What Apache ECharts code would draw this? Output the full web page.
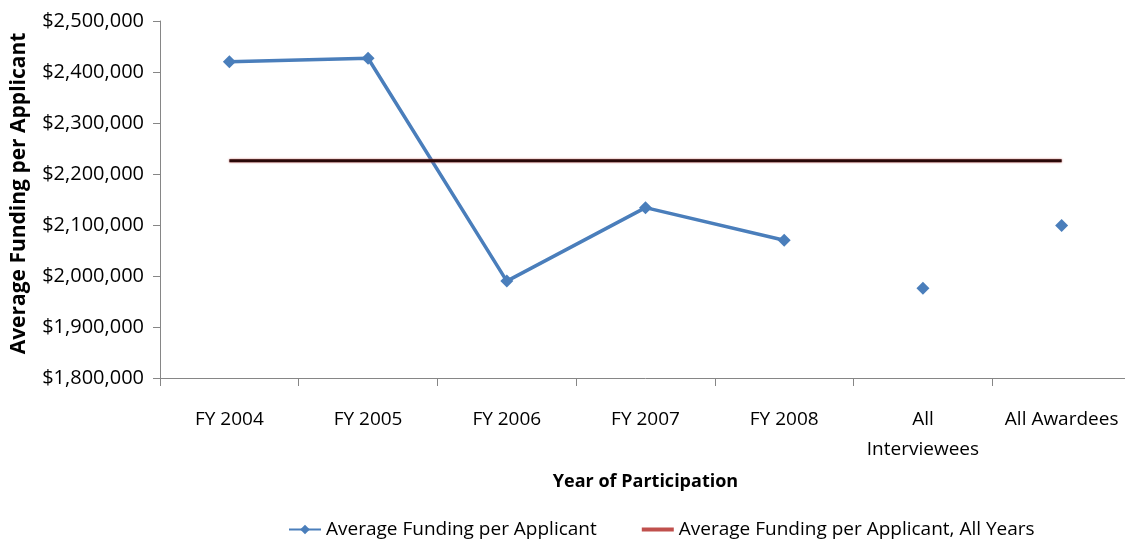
<!DOCTYPE html>
<html>
<head>
<meta charset="utf-8">
<script src="https://cdn.jsdelivr.net/npm/echarts@6/dist/echarts.min.js"></script>
<style>
    html, body { margin: 0; padding: 0; background: #fff; overflow: hidden; }
    /* plot runs a few pixels past the right edge, as in the reference */
    #chart { width: 1135px; height: 543px; }
</style>
</head>
<body>
<div id="chart"></div>
<script>
    // categories and values
    const categories = ['FY 2004', 'FY 2005', 'FY 2006', 'FY 2007', 'FY 2008', 'All\nInterviewees', 'All Awardees']
    const yearlyFunding = [2420000, 2427000, 1990000, 2134000, 2070000, null, null]
    const groupFunding = [null, null, null, null, null, 1976000, 2099000]
    const allYearsFunding = [2226000, 2226000, 2226000, 2226000, 2226000, 2226000, 2226000]

    const seriesName = 'Average Funding per Applicant'
    const allYearsName = 'Average Funding per Applicant, All Years'
    const font = "'Open Sans', sans-serif"
    const blue = '#4a7ebb'
    const red = '#c0504d'

    const myChart = echarts.init(document.getElementById('chart'))

    const option = {
        animation: false,
        textStyle: { fontFamily: font, color: '#000' },
        grid: { left: 160, right: 4, top: 21, height: 357 },
        legend: {
            top: 515,
            left: 283,
            itemGap: 43,
            itemWidth: 32,
            itemHeight: 12,
            textStyle: { fontFamily: font, fontSize: 19, color: '#000' },
            data: [
                { name: seriesName },
                { name: allYearsName, itemStyle: { color: red, opacity: 0 }, lineStyle: { color: red, width: 4 } }
            ]
        },
        xAxis: {
            type: 'category',
            data: categories,
            boundaryGap: true,
            name: 'Year of Participation',
            nameLocation: 'middle',
            nameGap: 95,
            nameTextStyle: { fontFamily: font, fontSize: 18, fontWeight: 'bold', color: '#000' },
            axisLine: { lineStyle: { color: '#868686', width: 1 } },
            axisTick: { show: true, length: 8, alignWithLabel: false, lineStyle: { color: '#868686' } },
            axisLabel: { fontFamily: font, fontSize: 19, color: '#000', margin: 27, lineHeight: 30, interval: 0 }
        },
        yAxis: {
            type: 'value',
            min: 1800000,
            max: 2500000,
            interval: 100000,
            name: 'Average Funding per Applicant',
            nameLocation: 'middle',
            nameGap: 130,
            nameTextStyle: { fontFamily: font, fontSize: 21, fontWeight: 'bold', color: '#000', padding: [0, 0, 0, 12] },
            splitLine: { show: false },
            axisLine: { show: true, lineStyle: { color: '#868686', width: 1 } },
            axisTick: { show: true, length: 7, lineStyle: { color: '#868686' } },
            axisLabel: {
                fontFamily: font,
                fontSize: 20,
                color: '#000',
                margin: 16,
                formatter: v => '$' + v.toLocaleString('en-US')
            }
        },
        series: [
            {
                name: seriesName,
                type: 'line',
                data: yearlyFunding,
                symbol: 'diamond',
                symbolSize: 13,
                connectNulls: false,
                lineStyle: { color: blue, width: 3.5 },
                itemStyle: { color: blue }
            },
            {
                name: seriesName,
                type: 'scatter',
                data: groupFunding,
                symbol: 'diamond',
                symbolSize: 13,
                itemStyle: { color: blue, opacity: 1 }
            },
            {
                name: allYearsName,
                type: 'line',
                data: allYearsFunding,
                symbol: 'none',
                lineStyle: { color: '#2a0808', width: 3, shadowColor: red, shadowBlur: 2 },
                itemStyle: { color: red }
            }
        ]
    }

    myChart.setOption(option)
</script>
</body>
</html>
